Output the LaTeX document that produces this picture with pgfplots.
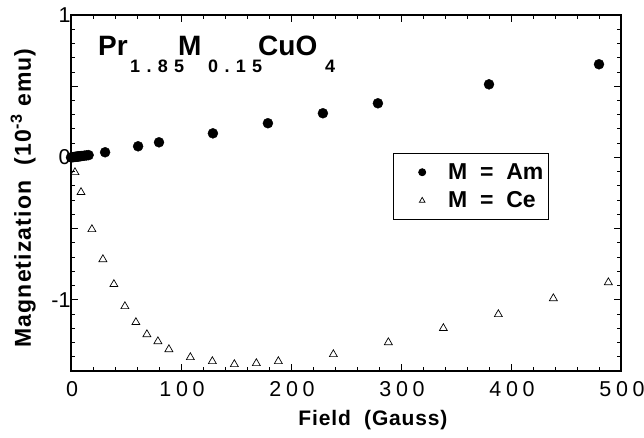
\documentclass[border=0pt]{standalone}
\usepackage{fontspec}
\setmainfont{Liberation Sans}
\usepackage{pgfplots}
\pgfplotsset{compat=1.18}
\begin{document}
\begin{tikzpicture}[x=1pt,y=1pt]
\useasboundingbox (-71,-67) rectangle (573,371);
\begin{axis}[
  at={(0,0)}, anchor=south west,
  scale only axis, width=550pt, height=356pt,
  xmin=0, xmax=500, ymin=-1.5, ymax=1,
  xtick={0,100,...,500}, xticklabels={0,100,200,300,400,500},
  minor x tick num=4,
  ytick={-1.5,-1,...,1}, yticklabels={,-1,,0,,1},
  minor y tick num=4,
  tick align=inside, major tick length=7pt, minor tick length=4pt,
  every tick/.style={black, line width=0.9pt},
  axis line style={line width=1.3pt},
  xticklabel style={font=\fontsize{21.5}{21.5}\selectfont\addfontfeature{LetterSpace=22}, yshift=-7pt, xshift=1pt},
  yticklabel style={font=\fontsize{21.5}{21.5}\selectfont, xshift=3pt},
  xlabel={Field\ \ (Gauss)},
  xlabel style={font=\bfseries\fontsize{21}{21}\selectfont\addfontfeature{LetterSpace=4}, at={(axis description cs:0.549,-0.138)}, anchor=center},
  ylabel={Magnetization\ \ (10\textsuperscript{-3} emu)},
  ylabel style={font=\bfseries\fontsize{23}{23}\selectfont\addfontfeature{LetterSpace=5}, at={(axis description cs:-0.087,0.486)}, anchor=center, rotate=0},
  legend style={at={(axis description cs:0.585,0.612)}, anchor=north west, draw=black, line width=0.9pt,
    font=\bfseries\fontsize{23}{23}\selectfont, row sep=7pt, inner xsep=3pt, inner ysep=8pt},
  legend cell align=left,
  clip=false,
]
\addplot[only marks, mark=*, mark size=5pt, black,
  legend image code/.code={\draw[draw=none, fill=none] (0pt,-1pt) rectangle (50pt,1pt); \draw[only marks, mark=*, mark size=3.5pt, black] plot coordinates {(26pt,0pt)};}]
coordinates {
(0,0.000) (1,0.001) (2,0.002) (3,0.003) (4,0.004) (5,0.005) (6,0.006) (7,0.007)
(8,0.008) (9,0.009) (10,0.010) (12,0.012) (14,0.014) (16,0.016)
(31,0.036) (61,0.078) (80,0.106) (129,0.169) (179,0.240) (229,0.310)
(279,0.380) (380,0.513) (480,0.654)
};
\addlegendentry{M\ \ =\ \ Am}
\addplot[only marks, mark=triangle, mark size=4.6pt, black, mark options={line width=0.7pt},
  legend image code/.code={\draw[draw=none, fill=none] (0pt,-1pt) rectangle (50pt,1pt); \draw[only marks, mark=triangle, mark size=3.3pt, black, line width=0.6pt] plot coordinates {(26pt,0pt)};}]
coordinates {
(3.6,-0.105) (9.1,-0.245) (19,-0.505) (29,-0.716) (39,-0.891) (49,-1.046)
(59,-1.158) (69,-1.243) (79,-1.292) (89,-1.348) (108.5,-1.404) (128.5,-1.432)
(148.5,-1.453) (168.5,-1.446) (188.5,-1.432) (238.5,-1.383) (288.5,-1.299)
(338.5,-1.200) (388.5,-1.102) (438.5,-0.990) (488.5,-0.878)
};
\addlegendentry{M\ \ =\ \ Ce}
\tikzset{tmain/.style={anchor=base west, inner sep=0pt, font=\bfseries\fontsize{28}{28}\selectfont},
         tsub/.style={anchor=base west, inner sep=0pt, font=\bfseries\fontsize{18}{18}\selectfont\addfontfeature{LetterSpace=35}}}
\node[tmain] at (axis description cs:0.049,0.8876) {Pr};
\node[tsub]  at (axis description cs:0.1073,0.8371) {1.85};
\node[tmain] at (axis description cs:0.1945,0.8876) {M};
\node[tsub]  at (axis description cs:0.2491,0.8371) {0.15};
\node[tmain] at (axis description cs:0.3400,0.8876) {CuO};
\node[tsub]  at (axis description cs:0.4618,0.8371) {4};
\end{axis}
\end{tikzpicture}
\end{document}
